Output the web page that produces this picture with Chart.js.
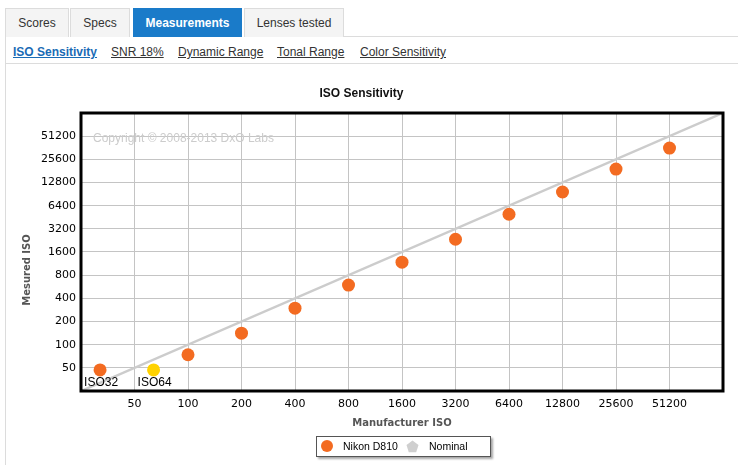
<!DOCTYPE html>
<html>
<head>
<meta charset="utf-8">
<script src="https://cdn.jsdelivr.net/npm/chart.js@4.4.1/dist/chart.umd.min.js"></script>
<style>
  html, body { margin: 0; padding: 0; background: #fff; }
  body { width: 738px; height: 465px; position: relative; overflow: hidden; font-family: "Liberation Sans", Arial, sans-serif; }
  .tab { position: absolute; top: 8px; height: 28px; line-height: 29px; text-align: center; font-size: 12px; color: #333;
         background: #f4f4f4; border: 1px solid #dcdcdc; border-bottom: none; box-sizing: content-box; }
  .tab.active { background: #1a7bc9; color: #fff; font-weight: bold; border-color: #1a7bc9; }
  .hline { position: absolute; height: 1px; background: #dcdcdc; }
  .vline { position: absolute; width: 1px; background: #dcdcdc; }
  .sub { position: absolute; top: 45px; font-size: 12px; color: #333; text-decoration: underline; white-space: nowrap; }
  .sub.active { color: #1a6bb5; font-weight: bold; }
  #wrap { position: absolute; left: 0; top: 70px; width: 738px; height: 395px; }
  #legend { position: absolute; left: 316px; top: 436px; width: 173px; height: 19px; border: 1px solid #555; background: #fff;
            box-shadow: 2px 2px 2px rgba(0,0,0,0.35); font-family: "Liberation Sans", Arial, sans-serif; font-size: 10.5px; color: #000; }
  #legend .dot { position: absolute; left: 4px; top: 3px; width: 12px; height: 12px; border-radius: 50%; background: #f36b21; }
  #legend svg { position: absolute; left: 89px; top: 3px; }
  #legend .t1 { position: absolute; left: 26px; top: 3px; }
  #legend .t2 { position: absolute; left: 112px; top: 3px; }
</style>
</head>
<body>
<div class="tab" style="left:5px;width:62px;">Scores</div>
<div class="tab" style="left:70px;width:58px;">Specs</div>
<div class="tab active" style="left:133px;width:107px;">Measurements</div>
<div class="tab" style="left:244px;width:98px;">Lenses tested</div>
<div class="hline" style="left:343px;top:36px;width:395px;"></div>
<div class="vline" style="left:5px;top:37px;height:428px;"></div>
<div class="sub active" style="left:13px;">ISO Sensitivity</div>
<div class="sub" style="left:111px;">SNR 18%</div>
<div class="sub" style="left:178px;">Dynamic Range</div>
<div class="sub" style="left:277px;">Tonal Range</div>
<div class="sub" style="left:360px;">Color Sensitivity</div>
<div class="hline" style="left:5px;top:63px;width:733px;"></div>

<div id="wrap"><canvas id="c" width="738" height="395"></canvas></div>

<div id="legend">
  <div class="dot"></div><span class="t1">Nikon D810</span>
  <svg width="13" height="13" viewBox="0 0 13 13"><polygon points="6.5,0.5 12.5,5 10.2,12.3 2.8,12.3 0.5,5" fill="#cfcfcf"/></svg>
  <span class="t2">Nominal</span>
</div>

<script>
// ---- data ----
const manufacturerISO = [32, 64, 100, 200, 400, 800, 1600, 3200, 6400, 12800, 25600, 51200];
const measuredISO     = [47, 47, 74, 141, 298, 594, 1180, 2345, 4950, 9630, 19150, 35900];
const pointNames      = ['ISO32', 'ISO64', '', '', '', '', '', '', '', '', '', ''];
const xTicks = [50, 100, 200, 400, 800, 1600, 3200, 6400, 12800, 25600, 51200];
const yTicks = [50, 100, 200, 400, 800, 1600, 3200, 6400, 12800, 25600, 51200];
const axisRange = [25, 102400];
const nominalLine = [25, 102400];

const ORANGE = '#f36b21';
const YELLOW = '#ffd200';
const pointColors = manufacturerISO.map(v => v === 64 ? YELLOW : ORANGE);

const tickFont = { family: '"DejaVu Sans", Verdana, sans-serif', size: 11 };

const framePlugin = {
  id: 'frame',
  beforeDatasetsDraw(chart) {
    const { ctx, chartArea: a } = chart;
    ctx.save();
    ctx.fillStyle = '#cccccc';
    ctx.font = '12px "Liberation Sans", Arial, sans-serif';
    ctx.textBaseline = 'middle';
    ctx.textAlign = 'left';
    ctx.fillText('Copyright \u00A9 2008-2013 DxO Labs', a.left + 12, a.top + 26);
    ctx.restore();
  },
  afterDatasetsDraw(chart) {
    const { ctx } = chart;
    const meta = chart.getDatasetMeta(0);
    ctx.save();
    ctx.fillStyle = '#000';
    ctx.font = '12px "Liberation Sans", Arial, sans-serif';
    ctx.textAlign = 'left';
    ctx.textBaseline = 'alphabetic';
    meta.data.forEach((el, i) => {
      if (pointNames[i]) ctx.fillText(pointNames[i], el.x - 16, el.y + 16);
    });
    ctx.restore();
  },
  afterDraw(chart) {
    const { ctx, chartArea: a } = chart;
    ctx.save();
    ctx.strokeStyle = '#000';
    ctx.lineWidth = 3;
    ctx.strokeRect(a.left, a.top, a.right - a.left, a.bottom - a.top);
    // y axis title
    ctx.translate(27, 200);
    ctx.rotate(-Math.PI / 2);
    ctx.fillStyle = '#555';
    ctx.font = 'bold 10px "DejaVu Sans", Verdana, sans-serif';
    ctx.textAlign = 'center';
    ctx.textBaseline = 'middle';
    ctx.fillText('Mesured ISO', 0, 0);
    ctx.restore();
  }
};

new Chart(document.getElementById('c'), {
  type: 'scatter',
  data: {
    datasets: [
      {
        label: 'Nikon D810',
        data: manufacturerISO.map((x, i) => ({ x, y: measuredISO[i] })),
        backgroundColor: pointColors,
        borderColor: pointColors,
        borderWidth: 0,
        pointRadius: 6.5,
        order: 0
      },
      {
        label: 'Nominal',
        type: 'line',
        data: nominalLine.map(v => ({ x: v, y: v })),
        borderColor: '#cccccc',
        borderWidth: 2.5,
        pointRadius: 0,
        fill: false,
        order: 1
      }
    ]
  },
  options: {
    responsive: false,
    animation: false,
    events: [],
    layout: { padding: { left: 0, right: 15, top: 0, bottom: 0 } },
    plugins: {
      legend: { display: false },
      tooltip: { enabled: false },
      title: {
        display: true,
        text: 'ISO Sensitivity',
        color: '#111',
        font: { family: '"Liberation Sans", Arial, sans-serif', size: 12, weight: 'bold' },
        padding: { top: 16.8, bottom: 11.8 }
      }
    },
    scales: {
      x: {
        type: 'logarithmic',
        min: axisRange[0],
        max: axisRange[1],
        afterBuildTicks: s => { s.ticks = xTicks.map(v => ({ value: v })); },
        afterFit: s => { s.height = 74; },
        grid: { color: '#c4c4c4', lineWidth: 1, drawTicks: false },
        border: { display: false },
        ticks: { autoSkip: false, maxRotation: 0, padding: 7, color: '#000', font: tickFont, callback: v => String(v) },
        title: {
          display: true,
          text: 'Manufacturer ISO',
          color: '#555',
          font: { family: '"DejaVu Sans", Verdana, sans-serif', size: 10, weight: 'bold' },
          padding: { top: 0, bottom: 36 }
        }
      },
      y: {
        type: 'logarithmic',
        min: axisRange[0],
        max: axisRange[1],
        afterBuildTicks: s => { s.ticks = yTicks.map(v => ({ value: v })); },
        afterFit: s => { s.width = 81; },
        grid: { color: '#c4c4c4', lineWidth: 1, drawTicks: false },
        border: { display: false },
        ticks: { autoSkip: false, padding: 5, color: '#000', font: tickFont, callback: v => String(v) }
      }
    }
  },
  plugins: [framePlugin]
});
</script>
</body>
</html>
